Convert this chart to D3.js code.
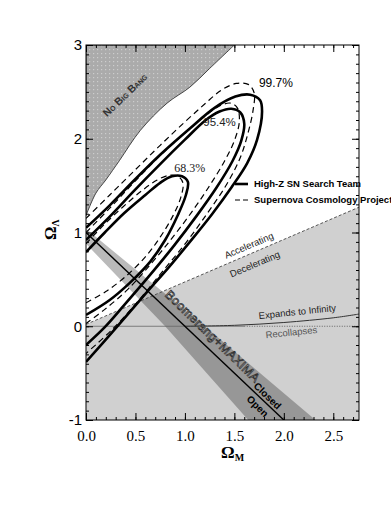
<!DOCTYPE html>
<html><head><meta charset="utf-8">
<script src="https://cdn.jsdelivr.net/npm/d3@7"></script>
<style>body{margin:0;background:#fff}</style>
</head><body><svg id="c" width="391" height="505"></svg>
<script>
// ---------- data ----------
const xTicks=[0,0.5,1.0,1.5,2.0,2.5];
const xTickLabels=["0.0","0.5","1.0","1.5","2.0","2.5"];
const yTicks=[-1,0,1,2,3];
const yTickLabels=["-1","0","1","2","3"];
const noBigBang=[[0,1.18],[0.1,1.42],[0.2,1.56],[0.34,1.77],[0.55,2.09],[0.82,2.38],[1.05,2.55],[1.25,2.75],[1.5,3.0]];
const decelLine=[[0,0.02],[2.76,1.27]];
const bandUpper=[[0,1.04],[1.2,0],[2.32,-1]];
const bandLower=[[0,0.88],[0.8,0],[1.64,-1]];
const flatLine=[[0,1],[2,-1]];
const zeroLine=[[0,0],[1.6,0]];
const zeroDotted=[[1.6,0],[2.76,0]];
const expandCurve=[[1.0,0],[1.5,0.01],[2.0,0.04],[2.5,0.09],[2.76,0.13]];
const hz997=[[0,1.05],[0.24,1.29],[0.49,1.56],[0.75,1.83],[1.05,2.11],[1.3,2.33],[1.51,2.45],[1.66,2.47],[1.76,2.41],[1.78,2.29],[1.73,1.99],[1.63,1.74],[1.47,1.48],[1.27,1.19],[1.05,0.9],[0.83,0.62],[0.62,0.37],[0.31,-0.01],[0,-0.38]];
const hz954=[[0,0.92],[0.24,1.17],[0.49,1.45],[0.75,1.73],[1.0,1.99],[1.2,2.19],[1.35,2.29],[1.47,2.32],[1.56,2.28],[1.6,2.16],[1.57,1.98],[1.48,1.76],[1.32,1.48],[1.12,1.18],[0.89,0.86],[0.65,0.55],[0.39,0.23],[0.19,-0.01],[0,-0.2]];
const hz683=[[0,0.79],[0.19,1.0],[0.39,1.21],[0.6,1.4],[0.75,1.53],[0.87,1.6],[0.97,1.6],[1.03,1.54],[1.01,1.4],[0.93,1.19],[0.8,0.92],[0.65,0.69],[0.44,0.46],[0.24,0.28],[0,0.12]];
const scp997=[[0,1.15],[0.24,1.4],[0.49,1.66],[0.75,1.93],[1.0,2.18],[1.2,2.37],[1.37,2.52],[1.52,2.59],[1.64,2.58],[1.7,2.49],[1.69,2.31],[1.64,2.07],[1.56,1.8],[1.42,1.51],[1.23,1.21],[1.01,0.89],[0.77,0.58],[0.52,0.26],[0.26,-0.04],[0,-0.29]];
const scp954=[[0,1.0],[0.24,1.26],[0.49,1.54],[0.75,1.82],[1.0,2.06],[1.2,2.24],[1.35,2.35],[1.46,2.38],[1.53,2.33],[1.55,2.18],[1.5,1.98],[1.4,1.76],[1.25,1.5],[1.07,1.22],[0.87,0.94],[0.66,0.67],[0.42,0.39],[0.19,0.18],[0,0.03]];
const scp683=[[0,0.88],[0.17,1.07],[0.37,1.27],[0.57,1.45],[0.72,1.56],[0.84,1.61],[0.93,1.6],[0.98,1.53],[0.96,1.38],[0.88,1.18],[0.75,0.95],[0.6,0.74],[0.4,0.53],[0.2,0.37],[0,0.25]];
const legendLabels=["High-Z SN Search Team","Supernova Cosmology Project"];
const levelLabels=["99.7%","95.4%","68.3%"];

// ---------- layout ----------
const L=86,R=359,T=45,B=420;
const svg=d3.select("#c");
const x=d3.scaleLinear().domain([0,2.76]).range([L,R]);
const y=d3.scaleLinear().domain([-1,3]).range([B,T]);
const line=d3.line().x(d=>x(d[0])).y(d=>y(d[1]));
const smooth=d3.line().x(d=>x(d[0])).y(d=>y(d[1])).curve(d3.curveCatmullRom.alpha(0.5));

const defs=svg.append("defs");
defs.append("clipPath").attr("id","clip").append("rect").attr("x",L).attr("y",T).attr("width",R-L).attr("height",B-T);
const pat=defs.append("pattern").attr("id","dots").attr("width",4).attr("height",4).attr("patternUnits","userSpaceOnUse");
pat.append("rect").attr("width",4).attr("height",4).attr("fill","#ababab");
pat.append("rect").attr("x",1).attr("y",1).attr("width",1.2).attr("height",1.2).attr("fill","#cdcdcd");

const g=svg.append("g").attr("clip-path","url(#clip)");
g.append("path").attr("d",line([decelLine[0],decelLine[1],[2.76,-1],[0,-1]])+"Z").attr("fill","#d0d0d0");
g.append("path").attr("d",line(bandUpper.concat(bandLower.slice().reverse()))+"Z").attr("fill","#000").attr("fill-opacity",0.27);
g.append("path").attr("d",smooth(noBigBang)+"L"+x(0)+","+y(3)+"Z").attr("fill","url(#dots)").attr("stroke","#222").attr("stroke-width",0.8);
g.append("path").attr("d",line(decelLine)).attr("stroke","#444").attr("stroke-width",0.9).attr("stroke-dasharray","3,2").attr("fill","none");
g.append("path").attr("d",line(zeroLine)).attr("stroke","#666").attr("stroke-width",0.8).attr("fill","none");
g.append("path").attr("d",line(zeroDotted)).attr("stroke","#555").attr("stroke-width",0.9).attr("stroke-dasharray","1,1.5").attr("fill","none");
g.append("path").attr("d",smooth(expandCurve)).attr("stroke","#333").attr("stroke-width",1).attr("fill","none");
g.append("path").attr("d",line(flatLine)).attr("stroke","#000").attr("stroke-width",1.4).attr("fill","none");
[hz997,hz954,hz683].forEach(c=>g.append("path").attr("d",smooth(c)).attr("fill","none").attr("stroke","#000").attr("stroke-width",2.6));
[scp997,scp954,scp683].forEach(c=>g.append("path").attr("d",smooth(c)).attr("fill","none").attr("stroke","#000").attr("stroke-width",1.2).attr("stroke-dasharray","6,4"));

function txt(px,py,s,rot,opts){
  const t=svg.append("text").attr("transform",`translate(${px},${py}) rotate(${rot})`).attr("text-anchor","middle").text(s);
  Object.entries(opts).forEach(([k,v])=>t.attr(k,v));
  return t;
}
const sans="Liberation Sans, Arial, sans-serif";
txt(x(0.42),y(2.44),"No Big Bang",-44,{"font-family":sans,"font-size":"10.5px","font-weight":"bold","font-variant":"small-caps","fill":"#333"});
txt(x(1.92),y(2.55),levelLabels[0],0,{"font-family":sans,"font-size":"12px","fill":"#000"});
txt(x(1.35),y(2.14),levelLabels[1],0,{"font-family":sans,"font-size":"11.5px","fill":"#222"});
txt(x(1.05),y(1.645),levelLabels[2],0,{"font-family":"Liberation Serif, serif","font-size":"12px","fill":"#222"});
txt(x(1.66),y(0.83),"Accelerating",-23,{"font-family":sans,"font-size":"9.5px","fill":"#222"});
txt(x(1.72),y(0.63),"Decelerating",-23,{"font-family":sans,"font-size":"9.5px","fill":"#222"});
txt(x(2.14),y(0.12),"Expands to Infinity",-6,{"font-family":sans,"font-size":"9.5px","fill":"#222"});
txt(x(2.08),y(-0.1),"Recollapses",-6,{"font-family":sans,"font-size":"9.5px","fill":"#555"});
txt(x(1.25),y(-0.14),"Boomerang+MAXIMA",44,{"font-family":sans,"font-size":"12.5px","fill":"#ffffff","stroke":"#333","stroke-width":0.8,"letter-spacing":"0.3px"});
txt(x(1.81),y(-0.77),"Closed",44,{"font-family":sans,"font-size":"10px","font-weight":"bold","fill":"#000"});
txt(x(1.71),y(-0.88),"Open",44,{"font-family":sans,"font-size":"10px","font-weight":"bold","fill":"#000"});

const lg=svg.append("g");
lg.append("line").attr("x1",235).attr("x2",248).attr("y1",184).attr("y2",184).attr("stroke","#000").attr("stroke-width",2.6);
lg.append("line").attr("x1",235).attr("x2",248).attr("y1",200).attr("y2",200).attr("stroke","#000").attr("stroke-width",1.2).attr("stroke-dasharray","5,3");
legendLabels.forEach((s,i)=>lg.append("text").attr("x",254).attr("y",184+16*i).attr("dy","0.35em").attr("font-family",sans).attr("font-size","9.5px").attr("font-weight","bold").text(s));

svg.append("rect").attr("x",L).attr("y",T).attr("width",R-L).attr("height",B-T).attr("fill","none").attr("stroke","#000").attr("stroke-width",1);
const xMinor=d3.range(0,2.76,0.1);
const yMinor=d3.range(-1,3.001,0.1);
function axis(gen,transform,vals,size,labels,pad){
  const a=gen.tickValues(vals).tickSizeInner(size).tickSizeOuter(0).tickPadding(pad);
  a.tickFormat(labels?((d,i)=>labels[i]):"");
  const gg=svg.append("g").attr("transform",transform).call(a);
  gg.select(".domain").remove();
  gg.selectAll("line").attr("stroke","#000");
  return gg;
}
axis(d3.axisBottom(x),`translate(0,${B})`,xMinor,-3,null,0);
axis(d3.axisTop(x),`translate(0,${T})`,xMinor,-3,null,0);
const xb=axis(d3.axisBottom(x),`translate(0,${B})`,xTicks,-7,xTickLabels,10);
xb.selectAll("text").attr("font-family","Liberation Serif, serif").attr("font-size","15px").attr("fill","#000");
axis(d3.axisTop(x),`translate(0,${T})`,xTicks,-7,null,0);
axis(d3.axisLeft(y),`translate(${L},0)`,yMinor,-3,null,0);
axis(d3.axisRight(y),`translate(${R},0)`,yMinor,-3,null,0);
const yl=axis(d3.axisLeft(y),`translate(${L},0)`,yTicks,-7,yTickLabels,4);
yl.selectAll("text").attr("font-family",sans).attr("font-size","15px").attr("fill","#000");
axis(d3.axisRight(y),`translate(${R},0)`,yTicks,-7,null,0);

const xt=svg.append("text").attr("x",221).attr("y",458).attr("font-family","Liberation Serif, serif").attr("font-weight","bold").attr("font-size","17px");
xt.append("tspan").text("Ω");
xt.append("tspan").attr("font-size","10px").attr("dy","3").text("M");
const yt=svg.append("text").attr("transform","translate(56,240) rotate(-90)").attr("font-family","Liberation Serif, serif").attr("font-weight","bold").attr("font-size","17px");
yt.append("tspan").text("Ω");
yt.append("tspan").attr("font-size","10px").attr("dy","3").text("Λ");
</script></body></html>
